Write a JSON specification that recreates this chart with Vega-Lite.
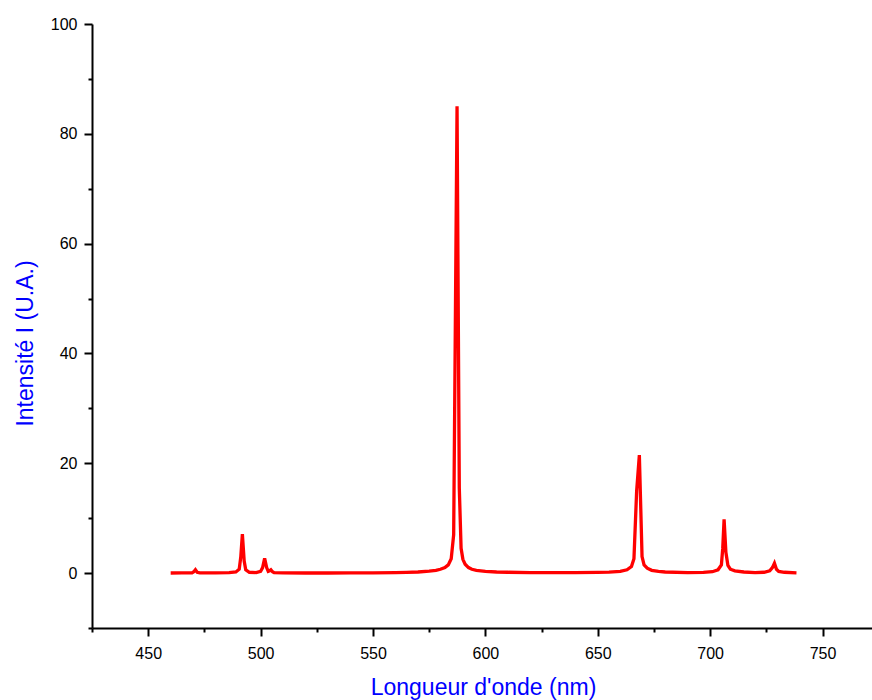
{
  "$schema": "https://vega.github.io/schema/vega-lite/v6.json",
  "width": 780,
  "height": 604,
  "autosize": {"type": "none"},
  "padding": {"left": 92, "top": 24, "right": 0, "bottom": 72},
  "background": "white",
  "config": {
    "view": {"stroke": null},
    "axis": {
      "grid": false,
      "domainColor": "black",
      "tickColor": "black",
      "domainWidth": 2,
      "tickWidth": 2,
      "labelFont": "Liberation Sans",
      "labelFontSize": 16,
      "labelColor": "black",
      "titleFont": "Liberation Sans",
      "titleColor": "#0000ff",
      "titleFontWeight": "normal",
      "titleFontSize": 23
    }
  },
  "data": {
    "values": [
      {"wavelength": 460, "intensity": 0.02},
      {"wavelength": 465, "intensity": 0.03},
      {"wavelength": 469.5, "intensity": 0.05},
      {"wavelength": 470.3, "intensity": 0.25},
      {"wavelength": 471, "intensity": 0.6},
      {"wavelength": 471.8, "intensity": 0.15},
      {"wavelength": 473, "intensity": 0.04},
      {"wavelength": 480, "intensity": 0.05},
      {"wavelength": 486, "intensity": 0.08},
      {"wavelength": 489, "intensity": 0.2},
      {"wavelength": 490.5, "intensity": 0.7},
      {"wavelength": 491.2, "intensity": 3.0},
      {"wavelength": 491.9, "intensity": 7.1},
      {"wavelength": 492.7, "intensity": 2.2},
      {"wavelength": 493.4, "intensity": 0.6},
      {"wavelength": 495, "intensity": 0.15},
      {"wavelength": 498, "intensity": 0.1},
      {"wavelength": 500, "intensity": 0.3},
      {"wavelength": 500.9, "intensity": 1.0},
      {"wavelength": 501.8, "intensity": 2.7},
      {"wavelength": 502.7, "intensity": 1.0},
      {"wavelength": 503.4, "intensity": 0.3},
      {"wavelength": 504, "intensity": 0.4},
      {"wavelength": 504.6, "intensity": 0.6},
      {"wavelength": 505.3, "intensity": 0.25},
      {"wavelength": 506, "intensity": 0.08},
      {"wavelength": 510, "intensity": 0.03},
      {"wavelength": 520, "intensity": 0.02},
      {"wavelength": 530, "intensity": 0.02},
      {"wavelength": 540, "intensity": 0.03},
      {"wavelength": 550, "intensity": 0.05},
      {"wavelength": 560, "intensity": 0.08},
      {"wavelength": 565, "intensity": 0.12},
      {"wavelength": 570, "intensity": 0.2},
      {"wavelength": 575, "intensity": 0.35},
      {"wavelength": 578, "intensity": 0.5},
      {"wavelength": 580, "intensity": 0.7},
      {"wavelength": 582, "intensity": 1.0},
      {"wavelength": 583.5, "intensity": 1.5},
      {"wavelength": 584.8, "intensity": 2.6},
      {"wavelength": 585.9, "intensity": 7.0},
      {"wavelength": 587.4, "intensity": 85},
      {"wavelength": 588.4, "intensity": 15.5},
      {"wavelength": 589.2, "intensity": 4.5},
      {"wavelength": 590, "intensity": 2.5},
      {"wavelength": 591, "intensity": 1.6},
      {"wavelength": 592.5, "intensity": 1.0},
      {"wavelength": 594, "intensity": 0.7},
      {"wavelength": 596, "intensity": 0.5},
      {"wavelength": 600, "intensity": 0.3},
      {"wavelength": 605, "intensity": 0.2},
      {"wavelength": 610, "intensity": 0.15},
      {"wavelength": 620, "intensity": 0.1},
      {"wavelength": 630, "intensity": 0.08},
      {"wavelength": 640, "intensity": 0.08},
      {"wavelength": 650, "intensity": 0.12},
      {"wavelength": 655, "intensity": 0.18},
      {"wavelength": 660, "intensity": 0.3},
      {"wavelength": 663, "intensity": 0.6},
      {"wavelength": 665, "intensity": 1.2},
      {"wavelength": 666.1, "intensity": 2.6},
      {"wavelength": 667.3, "intensity": 15},
      {"wavelength": 668.5, "intensity": 21.5},
      {"wavelength": 669.7, "intensity": 3.0},
      {"wavelength": 670.6, "intensity": 1.5},
      {"wavelength": 672, "intensity": 0.9},
      {"wavelength": 674, "intensity": 0.5},
      {"wavelength": 677, "intensity": 0.3},
      {"wavelength": 680, "intensity": 0.2},
      {"wavelength": 690, "intensity": 0.1},
      {"wavelength": 697, "intensity": 0.12},
      {"wavelength": 701, "intensity": 0.25},
      {"wavelength": 703.5, "intensity": 0.6},
      {"wavelength": 705.0, "intensity": 1.5},
      {"wavelength": 705.6, "intensity": 4.5},
      {"wavelength": 706.2, "intensity": 9.8},
      {"wavelength": 707.0, "intensity": 3.8},
      {"wavelength": 707.9, "intensity": 1.4},
      {"wavelength": 709, "intensity": 0.7},
      {"wavelength": 711, "intensity": 0.4},
      {"wavelength": 715, "intensity": 0.2},
      {"wavelength": 720, "intensity": 0.1},
      {"wavelength": 724, "intensity": 0.15},
      {"wavelength": 726.5, "intensity": 0.4},
      {"wavelength": 727.7, "intensity": 1.0},
      {"wavelength": 728.6, "intensity": 1.8},
      {"wavelength": 729.5, "intensity": 0.7},
      {"wavelength": 730.5, "intensity": 0.3},
      {"wavelength": 733, "intensity": 0.15},
      {"wavelength": 738.4, "intensity": 0.05}
    ]
  },
  "layer": [
    {
      "mark": {"type": "line", "opacity": 0},
      "encoding": {
        "x": {
          "field": "wavelength",
          "type": "quantitative",
          "scale": {"domain": [425, 772], "nice": false, "zero": false},
          "axis": {
            "orient": "bottom",
            "values": [425, 475, 525, 575, 625, 675, 725],
            "labels": false,
            "tickSize": 4,
            "domain": false,
            "title": null
          }
        },
        "y": {
          "field": "intensity",
          "type": "quantitative",
          "scale": {"domain": [-10, 100], "nice": false, "zero": false},
          "axis": {
            "orient": "left",
            "values": [-10, 10, 30, 50, 70, 90],
            "labels": false,
            "tickSize": 4,
            "domain": false,
            "title": null
          }
        }
      }
    },
    {
      "mark": {"type": "line", "color": "#ff0000", "strokeWidth": 3.3},
      "encoding": {
        "x": {
          "field": "wavelength",
          "type": "quantitative",
          "scale": {"domain": [425, 772], "nice": false, "zero": false},
          "axis": {
            "orient": "bottom",
            "values": [450, 500, 550, 600, 650, 700, 750],
            "tickSize": 8,
            "labelPadding": 9,
            "labelFlush": false,
            "title": "Longueur d'onde (nm)",
            "titleBaseline": "alphabetic",
            "titleAnchor": null,
            "titleX": 391,
            "titleY": 66
          }
        },
        "y": {
          "field": "intensity",
          "type": "quantitative",
          "scale": {"domain": [-10, 100], "nice": false, "zero": false},
          "axis": {
            "orient": "left",
            "values": [0, 20, 40, 60, 80, 100],
            "tickSize": 8,
            "labelPadding": 7,
            "labelFlush": false,
            "title": "Intensité I (U.A.)",
            "titleAngle": -90,
            "titleAlign": "center",
            "titleBaseline": "alphabetic",
            "titleX": -60,
            "titleY": 319
          }
        }
      }
    }
  ],
  "resolve": {"axis": {"x": "independent", "y": "independent"}}
}
